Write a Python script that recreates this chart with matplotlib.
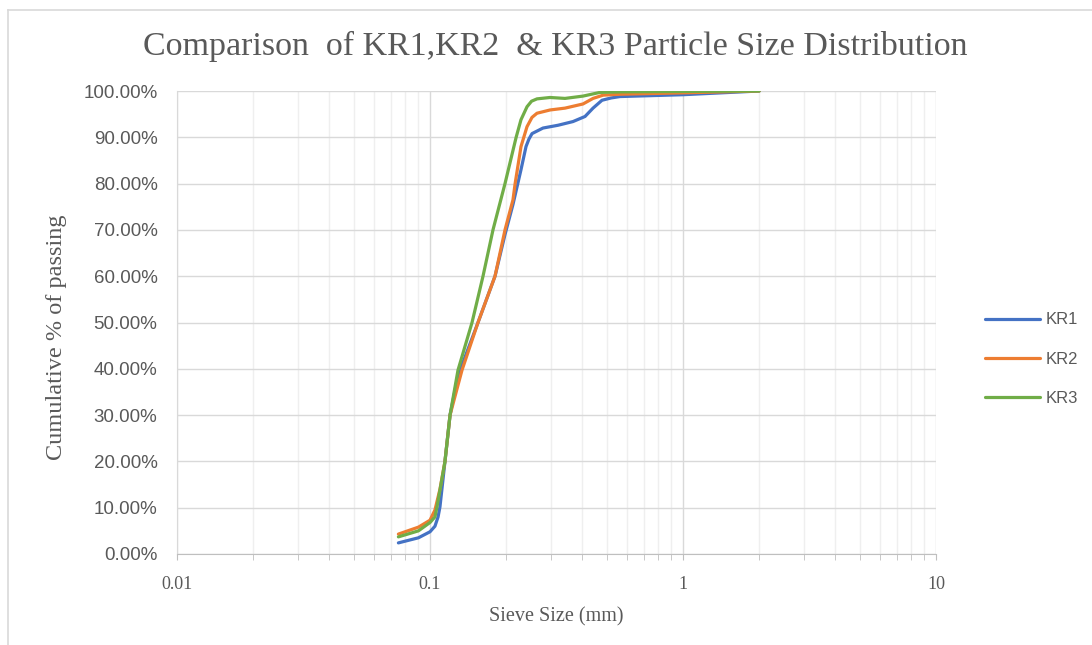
import matplotlib
matplotlib.use('Agg')
import matplotlib.pyplot as plt
from matplotlib.lines import Line2D
from matplotlib.ticker import FixedLocator, LogLocator, NullFormatter, FuncFormatter


# values (sieve size in mm, cumulative % passing)
kr1_size = [0.075, 0.09, 0.1, 0.1046, 0.1076, 0.1095, 0.1146, 0.12, 0.129, 0.1548,
            0.1807, 0.1979, 0.2128, 0.2289, 0.2396, 0.246, 0.2531, 0.2797, 0.3206, 0.3675,
            0.41, 0.4409, 0.4785, 0.52, 0.5636, 1.0, 2.0]
kr1_pass = [2.4, 3.5, 4.8, 6.0, 8.0, 10.2, 20.0, 30.0, 38.5, 50.0,
            60.0, 69.0, 75.5, 83.0, 88.0, 89.6, 90.8, 92.0, 92.6, 93.4,
            94.5, 96.3, 98.0, 98.5, 98.8, 99.2, 100.0]

kr2_size = [0.075, 0.09, 0.1, 0.1046, 0.1095, 0.1146, 0.12, 0.1338, 0.1548, 0.1807,
            0.1979, 0.2128, 0.217, 0.2289, 0.2418, 0.253, 0.2648, 0.2981, 0.3417, 0.4025,
            0.441, 0.483, 0.5636, 1.0, 2.0]
kr2_pass = [4.3, 5.8, 7.3, 9.5, 14.0, 20.0, 30.0, 39.7, 50.0, 60.0,
            70.0, 76.5, 80.0, 88.0, 92.3, 94.3, 95.2, 95.9, 96.3, 97.2,
            98.4, 99.1, 99.3, 99.6, 100.0]

kr3_size = [0.075, 0.09, 0.1, 0.1046, 0.1066, 0.1146, 0.12, 0.129, 0.1466, 0.162,
            0.1774, 0.1979, 0.219, 0.2289, 0.2418, 0.252, 0.2648, 0.2981, 0.3417, 0.4025,
            0.4698, 0.5636, 1.0, 2.0]
kr3_pass = [3.7, 5.0, 6.8, 8.0, 10.2, 20.0, 30.0, 39.7, 50.0, 60.0,
            70.0, 80.0, 90.0, 93.8, 96.6, 97.8, 98.3, 98.6, 98.4, 98.9,
            99.7, 99.8, 99.9, 100.0]

series = [('KR1', kr1_size, kr1_pass, '#4472C4'),
          ('KR2', kr2_size, kr2_pass, '#ED7D31'),
          ('KR3', kr3_size, kr3_pass, '#70AD47')]

x_ticks = [0.01, 0.1, 1, 10]
x_tick_labels = ['0.01', '0.1', '1', '10']
y_ticks = list(range(0, 101, 10))

txt = '#595959'

fig = plt.figure(figsize=(10.92, 6.45), dpi=100)
ax = fig.add_axes([177 / 1092, 1 - 554 / 645, (936 - 177) / 1092, (554 - 91) / 645])

for name, xs, ys, col in series:
    ax.plot(xs, ys, color=col, lw=2.3, label=name, solid_capstyle='round',
            solid_joinstyle='round')

ax.set_xscale('log')
ax.set_xlim(0.01, 10)
ax.set_ylim(0, 100)

ax.xaxis.set_major_locator(FixedLocator(x_ticks))
ax.xaxis.set_major_formatter(FuncFormatter(lambda v, p: x_tick_labels[x_ticks.index(v)] if v in x_ticks else ''))
ax.xaxis.set_minor_locator(LogLocator(base=10, subs=range(2, 10)))
ax.xaxis.set_minor_formatter(NullFormatter())
ax.set_yticks(y_ticks)
ax.set_yticklabels(['%.2f%%' % v for v in y_ticks])

ax.grid(which='major', axis='both', color='#d9d9d9', lw=1.0)
ax.grid(which='minor', axis='x', color='#efefef', lw=1.0)
ax.set_axisbelow(True)

for s in ['top', 'right']:
    ax.spines[s].set_visible(False)
ax.spines['bottom'].set_color('#bfbfbf')
ax.spines['left'].set_color('#d9d9d9')

ax.tick_params(axis='x', which='both', direction='out', length=4, color='#bfbfbf',
               labelcolor=txt, pad=12)
ax.tick_params(axis='y', length=0, labelcolor=txt, pad=14)
for lab in ax.get_xticklabels():
    lab.set_family(['Liberation Sans Narrow', 'Liberation Serif'])
    lab.set_fontsize(13)
for lab in ax.get_yticklabels():
    lab.set_family('Liberation Sans')
    lab.set_fontsize(13.5)

ax.set_xlabel('Sieve Size (mm)', family='Liberation Serif', fontsize=14.5, color=txt, labelpad=10)
ax.set_ylabel('Cumulative % of passing', family='Liberation Serif', fontsize=17.5, color=txt)
ax.yaxis.set_label_coords(-0.145, 0.469)

fig.text(555 / 1092, 1 - 46 / 645, 'Comparison  of KR1,KR2  & KR3 Particle Size Distribution',
         family='Liberation Serif', fontsize=24.5, color=txt, ha='center', va='center')

leg = ax.legend(loc='center left', bbox_to_anchor=(1.045, 0.421), frameon=False,
                prop={'family': 'Liberation Sans', 'size': 12}, handlelength=3.3,
                handletextpad=0.3, labelspacing=1.45)
for t in leg.get_texts():
    t.set_color(txt)

# outer chart border
fig.add_artist(Line2D([8 / 1092, 1], [1 - 10 / 645, 1 - 10 / 645], color='#d9d9d9', lw=1.2))
fig.add_artist(Line2D([8 / 1092, 8 / 1092], [0, 1 - 10 / 645], color='#d9d9d9', lw=1.2))

fig.savefig('out.png', dpi=100)
